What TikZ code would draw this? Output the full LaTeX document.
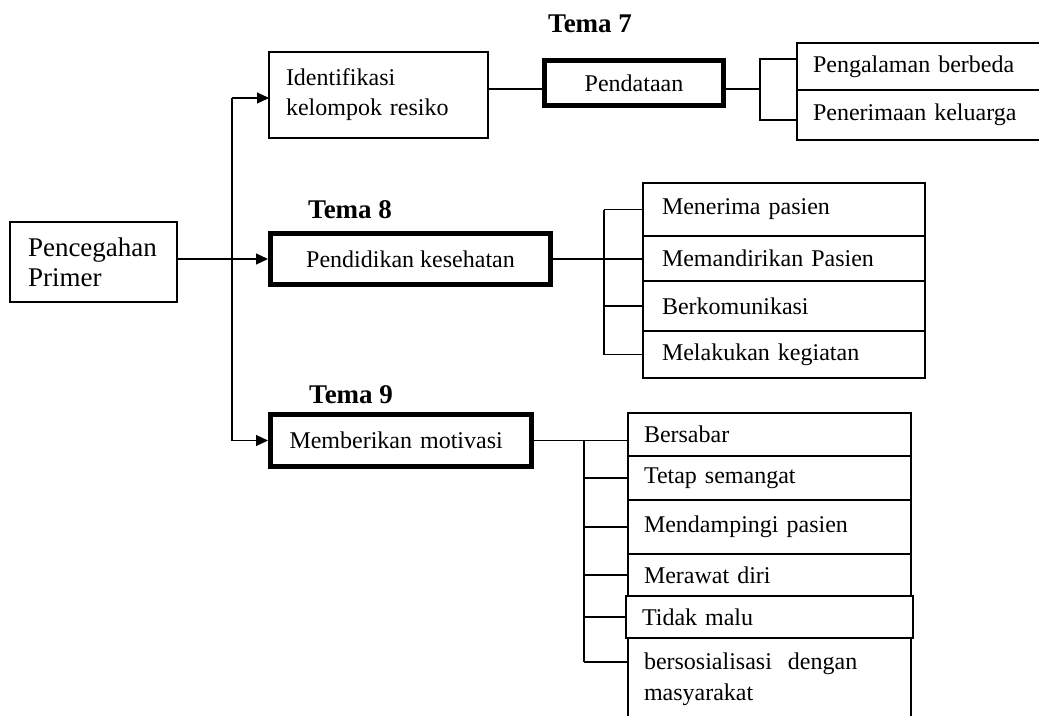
\documentclass[tikz,border=0pt]{standalone}
\usepackage{fontspec}
\setmainfont{Liberation Serif}
\usetikzlibrary{arrows.meta,positioning,calc}

\tikzset{
  box/.style={draw, line width=1.2pt, inner ysep=0pt, outer sep=0pt, align=left},
  bold box/.style={draw, line width=5pt, inner ysep=0pt},
  row/.style={box, anchor=north west},
  tema/.style={font=\fontsize{27}{30}\selectfont\bfseries, anchor=base west, inner sep=0pt},
  link/.style={line width=1.2pt},
  arrow link/.style={link, -{Triangle[length=12pt, width=11pt]}}
}

\begin{document}
\begin{tikzpicture}[x=1pt, y=-1pt, font=\fontsize{24}{30}\selectfont]
    \useasboundingbox (0,0) rectangle (1039,715);
    \clip (0,0) rectangle (1039,715);

    % Main boxes
    \node[box, text width=131pt, inner xsep=18pt, minimum height=80pt,
          font=\fontsize{27}{30}\selectfont] (prim) at (93.5,262) {Pencegahan\\Primer};
    \node[box, text width=185pt, inner xsep=17pt, minimum height=86pt] (ident) at (378.5,95)
        {Identifikasi\\kelompok resiko};
    \node[bold box, minimum width=179pt, minimum height=45pt] (pend) at (634,83) {Pendataan};
    \node[bold box, minimum width=280pt, minimum height=51pt] (edu) at (410.5,259) {Pendidikan kesehatan};
    \node[bold box, text width=223pt, inner xsep=19pt, align=left, minimum height=52pt] (motiv)
        at (401,440.5) {Memberikan motivasi};

    % Theme labels
    \node[tema] (tema7) at (548,32) {Tema 7};
    \node[tema] (tema8) at (308,218) {Tema 8};
    \node[tema] (tema9) at (309,403) {Tema 9};

    % Tema 7 rows
    \node[row, text width=228pt, inner xsep=16pt, minimum height=47pt] (exp) at (797,43) {Pengalaman berbeda};
    \node[row, text width=228pt, inner xsep=16pt, minimum height=50pt] (fam) at (797,90) {Penerimaan keluarga};

    % Tema 8 rows
    \node[row, text width=244pt, inner xsep=19pt, minimum height=53pt] (r81) at (643,183) {Menerima pasien};
    \node[row, text width=244pt, inner xsep=19pt, minimum height=45pt] (r82) at (643,236) {Memandirikan Pasien};
    \node[row, text width=244pt, inner xsep=19pt, minimum height=50pt] (r83) at (643,281) {Berkomunikasi};
    \node[row, text width=244pt, inner xsep=19pt, minimum height=47pt] (r84) at (643,331) {Melakukan kegiatan};

    % Tema 9 rows
    \node[row, text width=251pt, inner xsep=16pt, minimum height=43pt] (r91) at (628,413) {Bersabar};
    \node[row, text width=251pt, inner xsep=16pt, minimum height=44pt] (r92) at (628,456) {Tetap semangat};
    \node[row, text width=251pt, inner xsep=16pt, minimum height=54pt] (r93) at (628,500) {Mendampingi pasien};
    \node[row, text width=251pt, inner xsep=16pt, minimum height=42pt] (r94) at (628,554) {Merawat diri};
    \node[row, text width=255pt, inner xsep=16pt, minimum height=42pt] (r95) at (626,596) {Tidak malu};
    \node[row, text width=251pt, inner xsep=16pt, inner ysep=14.5pt,
          font=\fontsize{24}{31}\selectfont] (r96) at (628,638) {bersosialisasi\ \ dengan\\masyarakat};

    % Trunk from Pencegahan Primer
    \coordinate (trunk) at (232,0);
    \coordinate (i7) at ([yshift=-3pt]ident.west);
    \draw[arrow link] (prim.east |- edu.west) -- (edu.west);
    \draw[link] (trunk |- i7) -- (trunk |- motiv.west);
    \draw[arrow link] (trunk |- i7) -- (i7);
    \draw[arrow link] (trunk |- motiv.west) -- (motiv.west);

    % Tema 7 links
    \coordinate (p7) at ([yshift=-6pt]pend.west);
    \coordinate (f7a) at (760,59);
    \coordinate (f7b) at (760,120);
    \draw[link] (p7 -| ident.east) -- (p7);
    \draw[link] (p7 -| pend.east) -- (p7 -| f7a);
    \draw[link] (exp.west |- f7a) -- (f7a) -- (f7b) -- (fam.west |- f7b);

    % Tema 8 links
    \coordinate (f8) at (604,0);
    \draw[link] (edu.east) -- (edu.east -| r82.west);
    \draw[link] (f8 |- r81.west) -- (f8 |- r84.west);
    \draw[link] (f8 |- r81.west) -- (r81.west);
    \draw[link] (f8 |- r83.west) -- (r83.west);
    \draw[link] (f8 |- r84.west) -- (r84.west);

    % Tema 9 links
    \coordinate (f9) at (584,0);
    \coordinate (f9end) at (584,662);
    \draw[link] (motiv.east) -- (motiv.east -| r91.west);
    \draw[link] (f9 |- motiv.east) -- (f9end);
    \draw[link] (f9 |- r92.west) -- (r92.west);
    \draw[link] (f9 |- r93.west) -- (r93.west);
    \draw[link] (f9 |- r94.west) -- (r94.west);
    \draw[link] (f9 |- r95.west) -- (r95.west);
    \draw[link] (f9end) -- (f9end -| r96.west);
\end{tikzpicture}
\end{document}
